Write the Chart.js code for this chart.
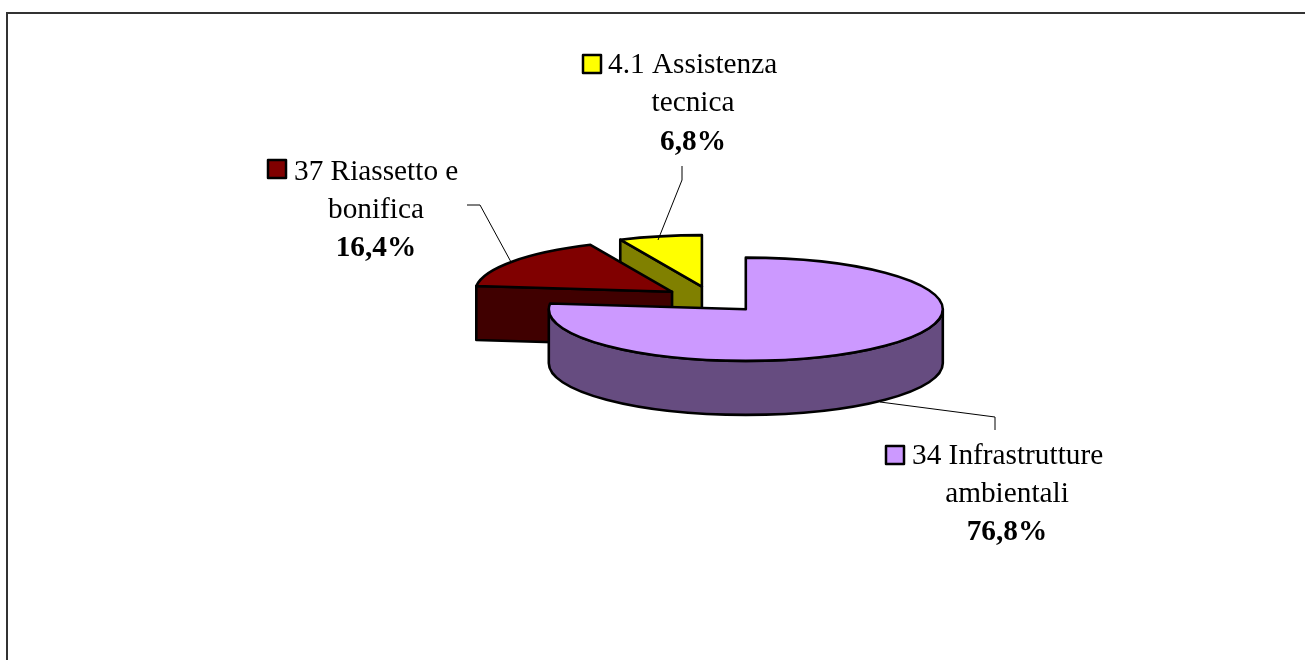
<!DOCTYPE html>
<html><head><meta charset="utf-8">
<style>html,body{margin:0;padding:0;background:#fff;overflow:hidden}canvas{display:block}</style>
<script src="https://cdn.jsdelivr.net/npm/chart.js@4"></script>
</head><body><canvas id="c" width="1305" height="660"></canvas>
<script>
const categories = [["34 Infrastrutture","ambientali"],["37 Riassetto e","bonifica"],["4.1 Assistenza","tecnica"]];
const values = [76.8, 16.4, 6.8];
const valueLabels = ["76,8%","16,4%","6,8%"];
const topColors = ["#CC99FF","#800000","#FFFF00"];
const sideColors = ["#664C80","#400000","#808000"];

const RADIUS = 197, TILT = 0.262, DEPTH = 54, LINE = 2.6;
const FONT = '"Liberation Serif","Times New Roman",serif', FSIZE = 29.3;
const labelLayout = [
  {cx:1007, base:[464,502,540], key:[886,446,18], leader:[[880,402],[995,417],[995,430]]},
  {cx:376,  base:[180,218,256], key:[268,160,18], leader:[[511,262],[480,205],[467,205]]},
  {cx:693,  base:[73,111,150],  key:[583,55,18],  leader:[[658,240],[682,180],[682,166]]}
];

function geom(arc){
  const p = arc.getProps(['x','y','startAngle','endAngle']);
  const mid = (p.startAngle+p.endAngle)/2, e = (arc.options.offset||0)/4;
  return {a:p.startAngle,b:p.endAngle,R:RADIUS,
    x:p.x+Math.cos(mid)*e, y:p.y+Math.sin(mid)*e*TILT, ry:RADIUS*TILT};
}
function drawSides(ctx,g,fill){
  ctx.fillStyle = fill; ctx.strokeStyle='#000'; ctx.lineWidth=LINE; ctx.lineJoin='round';
  const pt = t => [g.x+g.R*Math.cos(t), g.y+g.ry*Math.sin(t)];
  const face = t => { const q=pt(t);
    ctx.beginPath(); ctx.moveTo(g.x,g.y); ctx.lineTo(q[0],q[1]);
    ctx.lineTo(q[0],q[1]+DEPTH); ctx.lineTo(g.x,g.y+DEPTH); ctx.closePath(); ctx.fill(); ctx.stroke(); };
  if (Math.sin(g.a-Math.PI/2) > 1e-3) face(g.a);
  if (Math.sin(g.b+Math.PI/2) > 1e-3) face(g.b);
  // outer wall: only the part that faces the viewer
  for (const k of [0,2]) {
    const lo=Math.max(g.a,k*Math.PI), hi=Math.min(g.b,k*Math.PI+Math.PI);
    if (hi>lo) {
      ctx.beginPath(); ctx.ellipse(g.x,g.y,g.R,g.ry,0,lo,hi);
      ctx.ellipse(g.x,g.y+DEPTH,g.R,g.ry,0,hi,lo,true); ctx.closePath(); ctx.fill(); ctx.stroke();
    }
  }
}
function finishTop(ctx,g,fill){
  ctx.fillStyle=fill; ctx.strokeStyle='#000'; ctx.lineWidth=LINE; ctx.lineJoin='round';
  ctx.beginPath(); ctx.moveTo(g.x,g.y); ctx.ellipse(g.x,g.y,g.R,g.ry,0,g.a,g.b); ctx.closePath();
  ctx.fill(); ctx.stroke();
}
const pie3d = {
  id:'pie3d',
  afterDatasetsUpdate(chart){
    // ArcElement enlarges an offset slice by a factor that depends on its sweep;
    // compensate so that every exploded slice keeps the same drawn radius.
    chart.getDatasetMeta(0).data.forEach(arc=>{
      const e=(arc.options.offset||0)/4, fix=1-Math.sin(Math.min(Math.PI,arc.circumference));
      arc.outerRadius = RADIUS - e*fix;
    });
  },
  beforeDatasetDraw(){ return false; },
  afterDatasetsDraw(chart){
    const ctx=chart.ctx, arcs=chart.getDatasetMeta(0).data;
    // painter's order: smallest slice at the back, largest in front
    for (let i=arcs.length-1;i>=0;i--){
      const arc=arcs[i], g=geom(arc);
      drawSides(ctx,g,sideColors[i]);
      ctx.save();
      ctx.translate(0,arc.y); ctx.scale(1,TILT); ctx.translate(0,-arc.y);
      arc.draw(ctx);
      ctx.restore();
      finishTop(ctx,g,topColors[i]);
    }
    labelLayout.forEach((L,i)=>{
      ctx.strokeStyle='#000'; ctx.lineWidth=1; ctx.beginPath();
      L.leader.forEach((q,j)=> j?ctx.lineTo(q[0],q[1]):ctx.moveTo(q[0],q[1])); ctx.stroke();
      ctx.fillStyle=topColors[i]; ctx.lineWidth=2.5;
      ctx.fillRect(L.key[0],L.key[1],L.key[2],L.key[2]); ctx.strokeRect(L.key[0],L.key[1],L.key[2],L.key[2]);
      ctx.fillStyle='#000'; ctx.textBaseline='alphabetic'; ctx.textAlign='left';
      ctx.font=FSIZE+'px '+FONT;
      ctx.fillText(categories[i][0], L.key[0]+L.key[2]+(L.cx===693?7:8), L.base[0]);
      ctx.textAlign='center';
      ctx.fillText(categories[i][1], L.cx, L.base[1]);
      ctx.font='bold '+FSIZE+'px '+FONT;
      ctx.fillText(valueLabels[i], L.cx, L.base[2]);
    });
    ctx.strokeStyle='#333'; ctx.lineWidth=2; ctx.lineJoin='miter'; ctx.beginPath();
    ctx.moveTo(7,660); ctx.lineTo(7,13); ctx.lineTo(1305,13); ctx.stroke();
  }
};
new Chart(document.getElementById('c'),{
  type:'pie',
  data:{labels:categories.map(c=>c.join(' ')),datasets:[{data:values,backgroundColor:topColors,borderWidth:0,offset:200,clip:false}]},
  options:{responsive:false,animation:false,radius:RADIUS,rotation:0,
    layout:{padding:{left:120,bottom:61}},
    plugins:{legend:{display:false},tooltip:{enabled:false}}},
  plugins:[pie3d]
});
</script></body></html>
